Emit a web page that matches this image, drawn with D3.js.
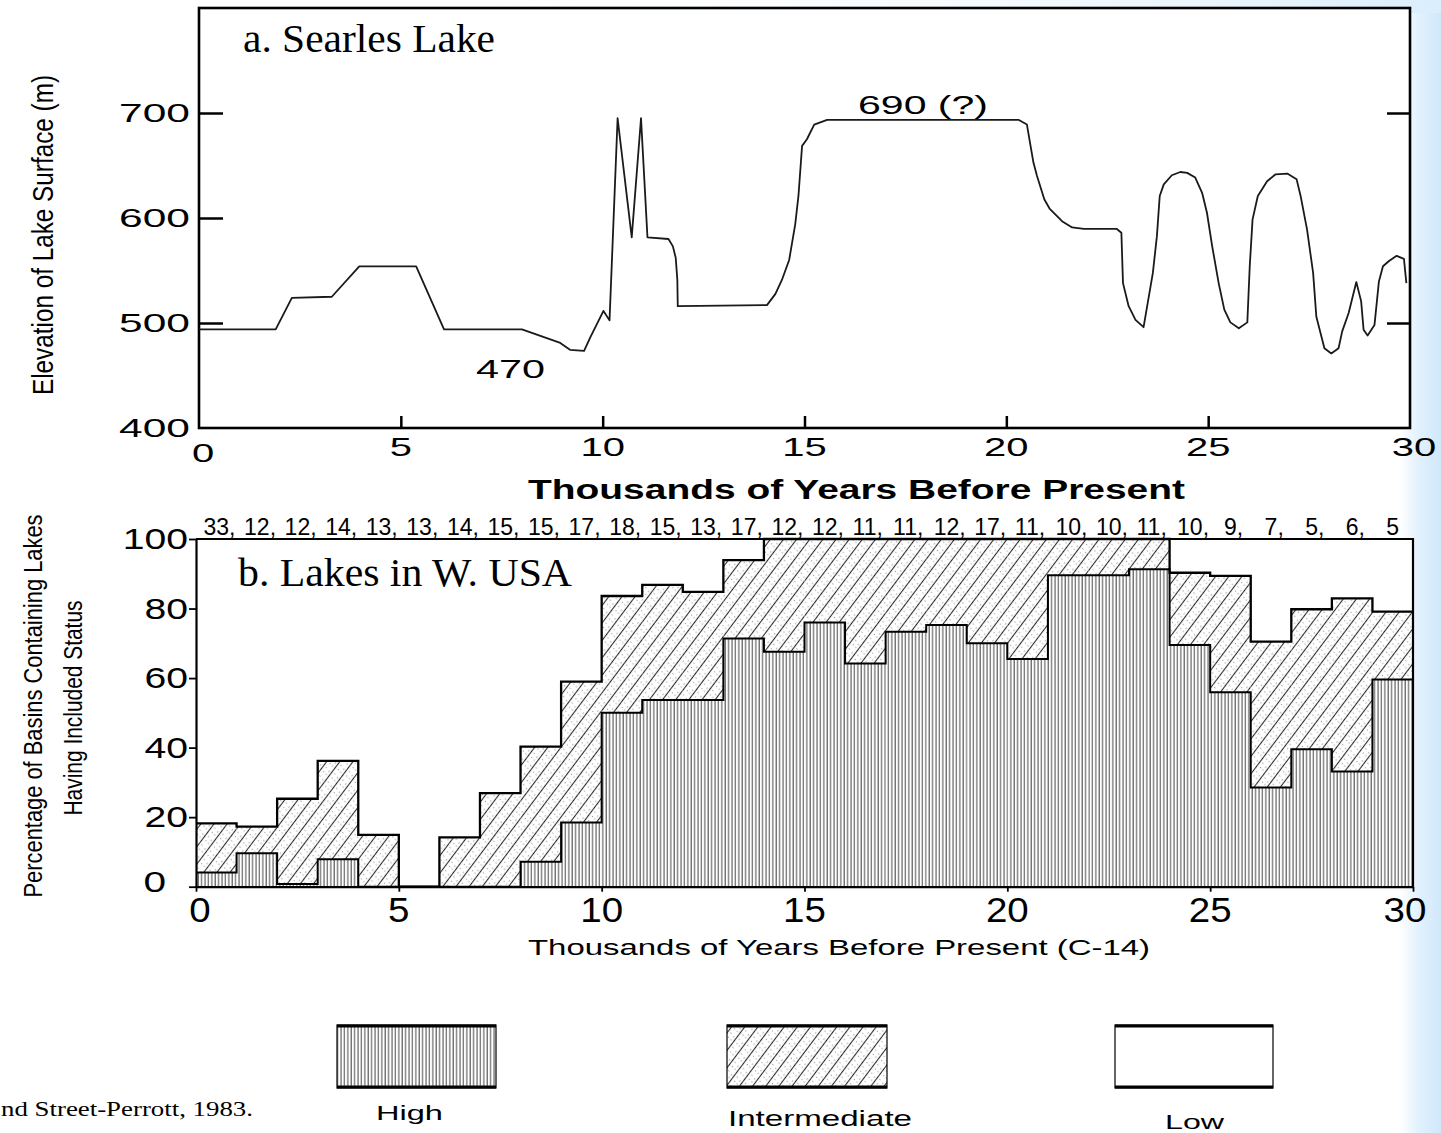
<!DOCTYPE html>
<html><head><meta charset="utf-8">
<script src="https://cdn.jsdelivr.net/npm/d3@7"></script>
<style>body{margin:0;background:#fff;overflow:hidden} svg{display:block}</style>
</head><body>
<svg id="c" width="1441" height="1133"></svg>
<script>
// ---------- DATA ----------
// Panel a: Searles Lake elevation (m) vs age (thousands of years BP)
const searlesAge = [0,1.9,2.3,3.29,3.97,5.38,6.07,8.0,8.95,9.19,9.54,9.69,10.02,10.17,10.37,10.72,10.95,11.11,11.63,11.74,11.81,11.85,11.86,
  14.07,14.28,14.44,14.62,14.77,14.85,14.94,15.06,15.24,15.56,20.3,20.51,20.67,20.76,20.94,21.07,21.38,21.63,21.92,22.73,22.85,22.89,23.03,23.2,23.4,
  23.63,23.73,23.8,23.9,24.1,24.31,24.48,24.68,24.85,24.97,25.1,25.26,25.4,25.55,25.76,25.97,26.03,26.1,26.23,26.46,26.67,26.96,27.19,27.29,27.45,
  27.6,27.68,27.88,28.05,28.23,28.32,28.48,28.67,28.79,28.85,28.95,29.12,29.23,29.33,29.48,29.67,29.85,29.91];
const searlesElev = [494,494,524,525,554,554,494,494,481,474.5,473.5,486,511.5,502.5,695,581.5,695,581.5,580,573,562,541,516,
  517,527.7,541,560,594,621,668.7,675,689,693.5,693.5,689,653,640,617.8,609,597,591,589.7,589.7,586,538,516,503,496,
  547.7,582.7,621,632,640.7,643.8,643,638.5,624,605,573,538,512.7,500.6,495,500.6,554,598.7,621,635,641.6,642.3,637,621,589,
  547.7,506,476,471,476,492,509.5,539,520.6,493.6,488,498,539.6,554,559,564,561,538];
const elevTicks = [400,500,600,700];
const elevInnerTicksLeft = [500,600,700];
const elevInnerTicksRight = [500,700];
const ageTicks = [0,5,10,15,20,25,30];
const ageInnerTicks = [5,10,15,20,25];

// Panel b: Lakes in W. USA, 1-kyr bins
const binStart = [0,1,2,3,4,5,6,7,8,9,10,11,12,13,14,15,16,17,18,19,20,21,22,23,24,25,26,27,28,29];
const highPct = [4.1,9.6,0.8,7.9,0,0,0,0,7.2,18.5,50.0,53.7,53.7,71.4,67.6,76.0,64.2,73.3,75.3,70.0,65.5,89.6,89.6,91.3,69.5,55.9,28.5,39.5,33.1,59.6];
const intermediatePct = [14.1,7.7,24.5,28.3,14.9,0,14.2,26.9,33.1,40.5,33.6,33.1,31.1,22.5,32.4,24.0,35.8,26.7,24.7,30.0,34.5,10.4,10.4,8.7,20.8,33.5,42.0,40.3,49.8,19.5];
const basinCount = [33,12,12,14,13,13,14,15,15,17,18,15,13,17,12,12,11,11,12,17,11,10,10,11,10,9,7,5,6,5];
const pctTicks = [0,20,40,60,80,100];
const legendLabels = ["High","Intermediate","Low"];

// ---------- DRAW ----------
const svg = d3.select("#c");
const SANS = "'Liberation Sans', Arial, Helvetica, sans-serif";
const SERIF = "'Liberation Serif', 'Times New Roman', serif";

const defs = svg.append("defs");
const gR = defs.append("linearGradient").attr("id","gr").attr("x1",0).attr("x2",1).attr("y1",0).attr("y2",0);
gR.append("stop").attr("offset","0").attr("stop-color","#ffffff");
gR.append("stop").attr("offset","0.45").attr("stop-color","#e2f1fd");
gR.append("stop").attr("offset","1").attr("stop-color","#d0e8fb");
const gT = defs.append("linearGradient").attr("id","gt").attr("x1",0).attr("x2",1).attr("y1",0).attr("y2",0);
gT.append("stop").attr("offset","0").attr("stop-color","#ffffff").attr("stop-opacity",0);
gT.append("stop").attr("offset","1").attr("stop-color","#dbeefc").attr("stop-opacity",1);

// patterns
const pv = defs.append("pattern").attr("id","vhatch").attr("patternUnits","userSpaceOnUse").attr("width",3.4).attr("height",10);
pv.append("rect").attr("width",3.4).attr("height",10).attr("fill","#fff");
pv.append("line").attr("x1",1).attr("x2",1).attr("y1",0).attr("y2",10).attr("stroke","#444").attr("stroke-width",1.0);

const pd = defs.append("pattern").attr("id","dhatch").attr("patternUnits","userSpaceOnUse")
  .attr("width",10.5).attr("height",10.5).attr("patternTransform","rotate(37)");
pd.append("rect").attr("width",10.5).attr("height",10.5).attr("fill","#fff");
pd.append("line").attr("x1",5.25).attr("x2",5.25).attr("y1",0).attr("y2",10.5).attr("stroke","#2a2a2a").attr("stroke-width",1.1);
[[2,2],[8.5,7],[2.5,8.5],[9,1.5]].forEach(([cx,cy])=>pd.append("circle").attr("cx",cx).attr("cy",cy).attr("r",0.65).attr("fill","#8a8a8a"));

svg.append("rect").attr("x",1400).attr("y",0).attr("width",41).attr("height",1133).attr("fill","url(#gr)");
svg.append("rect").attr("x",450).attr("y",0).attr("width",991).attr("height",13).attr("fill","url(#gt)");
svg.append("rect").attr("x",199).attr("y",8).attr("width",1211).attr("height",420).attr("fill","#fff");
svg.append("rect").attr("x",196).attr("y",539).attr("width",1217).attr("height",348).attr("fill","#fff");

function wtext(x, y, str, o) {
  const t = svg.append("text")
    .attr("transform", `translate(${x},${y}) rotate(${o.rot||0}) scale(${o.sx||1},1)`)
    .attr("text-anchor", o.anchor || "start")
    .style("font-family", o.font || SANS)
    .style("font-size", o.size + "px")
    .style("font-weight", o.weight || "normal")
    .attr("fill", "#000")
    .text(str);
  if (o.len) t.attr("textLength", o.len).attr("lengthAdjust", "spacingAndGlyphs");
  return t;
}

// ===== Panel a =====
const xA = d3.scaleLinear().domain([0,30]).range([199,1410]);
const yA = d3.scaleLinear().domain([400,800]).range([428,8]);

svg.append("g").attr("transform","translate(199,0)")
  .call(d3.axisLeft(yA).tickValues(elevInnerTicksLeft).tickSize(-24).tickSizeOuter(0).tickFormat(""))
  .call(g=>g.select(".domain").remove())
  .call(g=>g.selectAll("line").attr("stroke","#000").attr("stroke-width",2.5));
svg.append("g").attr("transform","translate(1410,0)")
  .call(d3.axisRight(yA).tickValues(elevInnerTicksRight).tickSize(-23).tickSizeOuter(0).tickFormat(""))
  .call(g=>g.select(".domain").remove())
  .call(g=>g.selectAll("line").attr("stroke","#000").attr("stroke-width",2.5));
svg.append("g").attr("transform","translate(0,428)")
  .call(d3.axisBottom(xA).tickValues(ageInnerTicks).tickSize(-12).tickSizeOuter(0).tickFormat(""))
  .call(g=>g.select(".domain").remove())
  .call(g=>g.selectAll("line").attr("stroke","#000").attr("stroke-width",2.5));

svg.append("rect").attr("x",xA(0)).attr("y",yA(800)).attr("width",xA(30)-xA(0)).attr("height",yA(400)-yA(800))
  .attr("fill","none").attr("stroke","#000").attr("stroke-width",2.6);

const lineA = d3.line().x(i=>xA(searlesAge[i])).y(i=>yA(searlesElev[i]));
svg.append("path").attr("d", lineA(d3.range(searlesAge.length)))
  .attr("fill","none").attr("stroke","#1a1a1a").attr("stroke-width",1.8).attr("stroke-linejoin","round");

elevTicks.forEach(v => wtext(190, yA(v)+9, String(v), {size:25, sx:1.7, anchor:"end"}));
ageTicks.forEach(v => wtext(xA(v) + (v===0?4:(v===30?4:0)), v===0?462:456, String(v), {size:25, sx:1.6, anchor:"middle"}));
wtext(528, 499, "Thousands of Years Before Present", {size:27, weight:"bold", len:657});
wtext(53, 235, "Elevation of Lake Surface (m)", {size:29, rot:-90, anchor:"middle", len:320});
wtext(243, 52, "a. Searles Lake", {size:40, font:SERIF, len:252});
wtext(476, 378, "470", {size:25, len:69});
wtext(858, 113.5, "690 (?)", {size:25, len:130});

// ===== Panel b =====
const xB = d3.scaleLinear().domain([0,30]).range([196,1413]);
const yB = d3.scaleLinear().domain([0,100]).range([886.7,539]);

const rows = binStart.map((b,i)=>({start:b, high:highPct[i], intermediate:intermediatePct[i]}));
const stack = d3.stack().keys(["high","intermediate"])(rows);
const fills = {high:"url(#vhatch)", intermediate:"url(#dhatch)"};
stack.forEach(layer => {
  svg.append("g").selectAll("rect").data(layer).join("rect")
    .attr("x", d=>xB(d.data.start))
    .attr("width", d=>xB(d.data.start+1)-xB(d.data.start))
    .attr("y", d=>yB(d[1]))
    .attr("height", d=>yB(d[0])-yB(d[1]))
    .attr("fill", fills[layer.key]);
});

const stepLine = d3.line().curve(d3.curveStepAfter).x(d=>xB(d[0])).y(d=>yB(d[1]));
const lastBin = binStart[binStart.length-1];
stack.forEach(layer => {
  const pts = layer.map(d=>[d.data.start, d[1]]);
  pts.push([lastBin+1, layer[layer.length-1][1]]);
  svg.append("path").attr("d", stepLine(pts)).attr("fill","none")
    .attr("stroke","#000").attr("stroke-width", layer.key==="high"?2.0:2.3).attr("stroke-linejoin","miter");
});

svg.append("g").attr("transform",`translate(${xB(0)},0)`)
  .call(d3.axisLeft(yB).tickValues(pctTicks).tickSize(7).tickSizeOuter(0).tickFormat(""))
  .call(g=>g.selectAll("line").attr("stroke","#000").attr("stroke-width",1.8))
  .call(g=>g.select(".domain").attr("stroke","#000").attr("stroke-width",2.2));
svg.append("g").attr("transform",`translate(0,${yB(0)})`)
  .call(d3.axisBottom(xB).tickValues(ageTicks).tickSize(5).tickSizeOuter(0).tickFormat(""))
  .call(g=>g.selectAll("line").attr("stroke","#000").attr("stroke-width",1.8))
  .call(g=>g.select(".domain").attr("stroke","#000").attr("stroke-width",2.2));
svg.append("path").attr("d", `M${xB(0)},${yB(100)}H${xB(30)}V${yB(0)}`)
  .attr("fill","none").attr("stroke","#000").attr("stroke-width",2.2);

pctTicks.forEach(v => {
  if (v===0) wtext(166, yB(0)+5, "0", {size:29, sx:1.4, anchor:"end"});
  else wtext(188, yB(v)+10, String(v), {size:29, sx:1.35, anchor:"end"});
});
ageTicks.forEach(v => wtext(xB(v)+(v===0?4:(v===30?-8:0)), 922, String(v), {size:35, sx:1.1, anchor:"middle"}));
wtext(528, 955, "Thousands of Years Before Present (C-14)", {size:22, len:622});
wtext(42, 706, "Percentage of Basins Containing Lakes", {size:26, rot:-90, anchor:"middle", len:383});
wtext(82, 708, "Having Included Status", {size:26, rot:-90, anchor:"middle", len:215});
wtext(238, 586, "b. Lakes in W. USA", {size:40, font:SERIF, len:334});

// basin counts: "n," with the number centred on its bin
basinCount.forEach((n,i) => {
  const last = i === basinCount.length-1;
  const cx = xB(binStart[i]+0.5);
  const numW = String(n).length * 12.8;
  wtext(cx - numW/2, 535, last ? String(n) : n + ",", {size:23});
});

// ===== Legend =====
const legendBoxes = [
  {x:337, w:159, fill:"url(#vhatch)"},
  {x:727, w:160, fill:"url(#dhatch)"},
  {x:1115, w:158, fill:"#fff"}
];
legendBoxes.forEach(b => {
  svg.append("rect").attr("x",b.x).attr("y",1025).attr("width",b.w).attr("height",63)
    .attr("fill",b.fill).attr("stroke","#000").attr("stroke-width",1.2);
  svg.append("line").attr("x1",b.x).attr("x2",b.x+b.w).attr("y1",1026).attr("y2",1026).attr("stroke","#000").attr("stroke-width",3);
  svg.append("line").attr("x1",b.x).attr("x2",b.x+b.w).attr("y1",1087).attr("y2",1087).attr("stroke","#000").attr("stroke-width",3);
});
wtext(376, 1120, legendLabels[0], {size:21, len:67});
wtext(728, 1126, legendLabels[1], {size:22, len:184});
wtext(1165, 1129, legendLabels[2], {size:21, len:59});

wtext(1, 1116, "nd Street-Perrott, 1983.", {size:21, font:SERIF, len:252});
</script>
</body></html>
